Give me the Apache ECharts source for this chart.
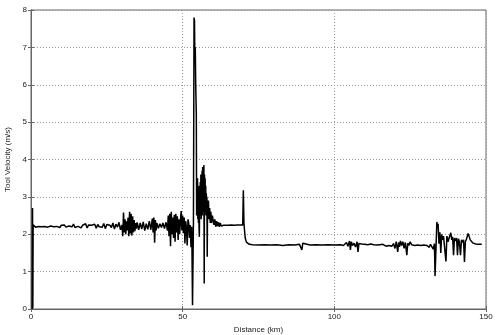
<!DOCTYPE html>
<html>
<head>
<meta charset="utf-8">
<script src="https://cdn.jsdelivr.net/npm/echarts@6/dist/echarts.min.js"></script>
<style>html,body{margin:0;padding:0;background:#fff;}#c{width:500px;height:335px;}</style>
</head>
<body>
<div id="c"></div>
<script>
var xTicks = [0, 50, 100, 150];
var yTicks = [0, 1, 2, 3, 4, 5, 6, 7, 8];

var dist = [
0.4,0.5,0.6,0.7,
1.0,1.5,2.0,2.5,3.0,3.5,4.0,4.5,5.0,5.5,6.0,6.5,7.0,7.5,8.0,8.5,9.0,9.5,10.0,10.5,11.0,11.5,12.0,12.5,13.0,13.5,14.0,14.5,15.0,15.5,16.0,16.5,17.0,17.5,18.0,18.5,19.0,19.5,20.0,20.5,21.0,21.5,22.0,22.5,23.0,23.5,24.0,24.5,25.0,25.5,26.0,26.5,27.0,27.5,28.0,28.5,29.0,29.5,
30.0,30.25,30.5,30.75,31.0,31.25,31.5,31.75,32.0,32.25,32.5,32.75,33.0,33.25,33.5,33.75,34.0,34.25,34.5,34.75,35.0,35.5,36.0,36.5,37.0,37.5,38.0,38.5,39.0,39.5,
40.0,40.25,40.5,40.75,41.0,41.25,41.5,42.0,42.5,43.0,43.5,44.0,44.5,45.0,45.25,45.5,45.75,46.0,46.25,46.5,46.75,47.0,47.25,47.5,47.75,48.0,48.25,48.5,48.75,49.0,49.25,49.5,49.75,
50.0,50.25,50.5,50.75,51.0,51.25,51.5,51.75,52.0,52.25,52.5,52.75,53.0,53.25,53.55,53.75,53.9,54.0,54.15,54.3,54.5,
54.6,54.7,54.8,54.9,55.0,55.1,55.2,55.3,55.4,55.5,55.6,55.7,55.8,55.9,56.0,56.1,56.2,56.3,56.4,56.5,56.6,56.7,56.8,56.9,57.0,57.1,57.2,57.3,57.4,57.5,57.6,57.7,57.8,57.9,58.0,58.1,58.2,58.3,58.5,58.7,58.9,59.1,59.3,59.5,59.8,
60.0,60.3,60.6,60.9,61.2,61.5,61.8,62.1,62.4,62.7,63.0,63.5,64.0,65.0,66.0,67.0,68.0,69.0,69.8,70.0,70.2,70.4,70.6,70.8,71.1,71.5,72.0,73.0,
75.0,77.0,79.0,81.0,83.0,85.0,87.0,88.5,89.0,89.3,89.6,90.0,92.0,94.0,96.0,98.0,100.0,102.0,103.0,
103.5,104.0,104.5,105.0,105.3,105.6,106.0,106.5,107.0,107.5,107.8,108.1,108.5,109.0,109.5,110.0,110.5,111.0,111.5,112.0,112.5,113.0,113.5,114.0,114.5,115.0,115.5,116.0,116.5,117.0,117.5,118.0,118.5,119.0,119.5,
120.0,120.4,120.9,121.2,121.5,121.8,122.2,122.6,123.0,123.4,123.9,124.2,124.6,125.0,125.5,126.0,126.5,127.0,127.5,128.0,128.5,129.0,129.5,130.0,130.5,131.0,131.3,131.7,132.2,132.6,133.0,133.2,133.5,133.8,134.0,134.2,134.5,134.8,135.1,135.4,135.7,136.0,136.4,136.8,137.1,137.5,137.9,138.4,138.7,139.0,139.3,139.6,
140.0,140.3,140.6,140.9,141.2,141.6,141.9,142.3,142.6,142.9,143.2,143.6,144.1,144.4,144.8,145.2,145.6,146.0,146.6,147.5,148.6
];

var vel = [
0.0,2.7,0.02,2.25,
2.25,2.19,2.24,2.21,2.26,2.20,2.23,2.21,2.24,2.19,2.23,2.22,2.25,2.20,2.23,2.21,2.26,2.18,2.24,2.20,2.25,2.19,2.23,2.22,2.24,2.20,2.27,2.18,2.23,2.21,2.26,2.17,2.24,2.20,2.28,2.17,2.25,2.21,2.24,2.19,2.27,2.16,2.26,2.20,2.23,2.19,2.29,2.15,2.26,2.21,2.24,2.18,2.30,2.14,2.27,2.19,2.32,2.12,
2.25,1.95,2.58,2.05,2.40,2.00,2.35,2.10,2.45,1.95,2.60,2.02,2.55,1.97,2.48,2.05,2.38,2.08,2.30,2.15,2.32,2.12,2.30,2.14,2.33,2.10,2.28,2.13,2.35,2.12,
2.42,2.05,2.45,1.77,2.38,2.10,2.30,2.16,2.28,2.18,2.30,2.15,2.32,2.10,2.50,1.95,2.55,1.68,2.60,2.00,2.45,1.90,2.52,1.80,2.55,2.05,2.48,1.85,2.40,2.00,2.35,2.62,2.10,
2.50,2.03,2.45,1.75,2.35,2.15,1.70,2.40,2.30,1.90,2.25,1.65,2.20,0.10,2.30,7.80,7.70,6.80,7.00,6.00,5.20,
2.50,3.30,2.60,3.50,2.40,3.10,2.30,3.30,2.20,1.93,2.90,2.50,3.40,2.60,3.60,2.40,3.20,2.70,3.70,2.50,3.80,2.60,3.50,2.90,3.85,0.68,3.60,2.80,3.50,2.60,3.30,2.50,3.10,2.60,3.00,1.40,2.80,2.40,2.90,2.40,2.70,2.30,2.60,2.30,2.50,
2.45,2.25,2.40,2.20,2.35,2.22,2.32,2.20,2.30,2.22,2.27,2.24,2.26,2.24,2.25,2.24,2.25,2.25,2.25,3.18,2.30,2.10,1.92,1.84,1.78,1.75,1.73,1.72,
1.71,1.72,1.71,1.72,1.70,1.72,1.71,1.73,1.70,1.58,1.76,1.72,1.71,1.72,1.71,1.72,1.71,1.72,1.70,
1.66,1.78,1.68,1.82,1.58,1.80,1.70,1.76,1.66,1.80,1.53,1.75,1.70,1.74,1.69,1.73,1.68,1.72,1.70,1.74,1.70,1.72,1.68,1.71,1.69,1.72,1.70,1.73,1.71,1.68,1.72,1.70,1.74,1.68,1.75,
1.62,1.80,1.53,1.78,1.66,1.82,1.70,1.80,1.62,1.78,1.44,1.76,1.70,1.80,1.72,1.76,1.70,1.74,1.71,1.73,1.70,1.74,1.71,1.73,1.70,1.72,1.65,1.73,1.70,1.60,1.75,0.88,1.60,2.33,2.20,2.28,1.75,2.05,1.50,2.00,1.85,1.95,1.60,1.27,1.95,1.80,1.92,2.04,1.85,1.93,1.44,1.90,
1.82,1.90,1.44,1.88,1.80,1.44,1.85,1.78,1.85,1.26,1.80,1.88,2.02,1.95,1.85,1.80,1.77,1.75,1.74,1.73,1.73
];

var points = dist.map(function (d, i) { return [d, vel[i]]; });

var chart = echarts.init(document.getElementById('c'), null, { renderer: 'canvas' });
var font = 'Liberation Sans, Arial, sans-serif';
var frame = '#666';
var grid = { color: '#9a9a9a', type: [1, 2], width: 1 };

chart.setOption({
  animation: false,
  backgroundColor: '#ffffff',
  grid: { left: 31, right: 14, top: 10, bottom: 26, outerBoundsMode: 'none', containLabel: false, show: true, borderColor: frame, borderWidth: 1, backgroundColor: 'transparent' },
  xAxis: [{
    type: 'value', min: xTicks[0], max: xTicks[xTicks.length - 1], interval: 50,
    name: 'Distance (km)', nameLocation: 'middle', nameGap: 13,
    nameTextStyle: { fontFamily: font, fontSize: 8, color: '#222' },
    axisLine: { show: true, lineStyle: { color: frame, width: 1 } },
    axisTick: { show: true, inside: true, length: 3, lineStyle: { color: frame } },
    axisLabel: { fontFamily: font, fontSize: 8, color: '#222', margin: 4 },
    splitLine: { show: true, lineStyle: grid }
  }, {
    type: 'value', position: 'top', min: xTicks[0], max: xTicks[xTicks.length - 1], interval: 50,
    axisLine: { show: true, lineStyle: { color: frame, width: 1 } },
    axisTick: { show: true, inside: true, length: 3, lineStyle: { color: frame } },
    axisLabel: { show: false }, splitLine: { show: false }
  }],
  yAxis: [{
    type: 'value', min: yTicks[0], max: yTicks[yTicks.length - 1], interval: 1,
    name: 'Tool Velocity (m/s)', nameLocation: 'middle', nameGap: 12, nameRotate: 90,
    nameTextStyle: { fontFamily: font, fontSize: 8, color: '#222' },
    axisLine: { show: true, lineStyle: { color: frame, width: 1 } },
    axisTick: { show: true, inside: true, length: 3, lineStyle: { color: frame } },
    axisLabel: { fontFamily: font, fontSize: 8, color: '#222', margin: 4 },
    splitLine: { show: true, lineStyle: grid }
  }, {
    type: 'value', position: 'right', min: yTicks[0], max: yTicks[yTicks.length - 1], interval: 1,
    axisLine: { show: true, lineStyle: { color: frame, width: 1 } },
    axisTick: { show: true, inside: true, length: 3, lineStyle: { color: frame } },
    axisLabel: { show: false }, splitLine: { show: false }
  }],
  series: [{
    type: 'line',
    data: points,
    showSymbol: false,
    symbol: 'none',
    lineStyle: { color: '#000', width: 1.5 },
    z: 5
  }]
});
</script>
</body>
</html>
